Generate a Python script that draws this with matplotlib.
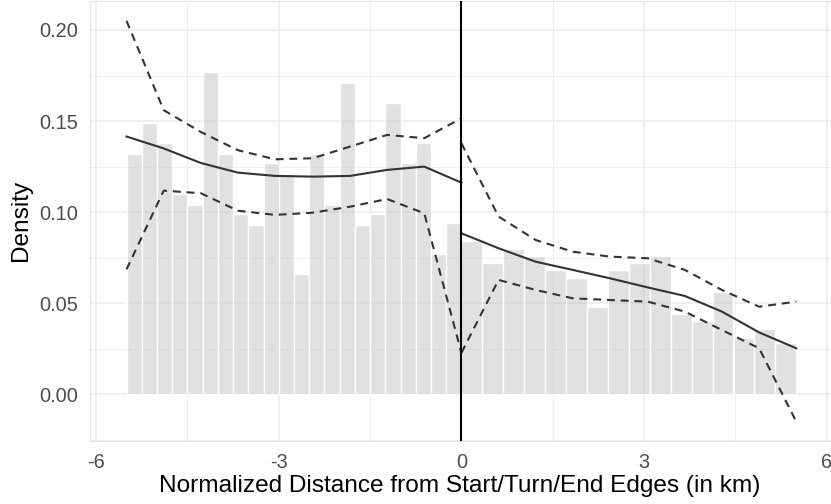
import numpy as np
import matplotlib.pyplot as plt

plt.rcParams['font.family'] = ['Liberation Sans', 'DejaVu Sans']
plt.rcParams['axes.unicode_minus'] = False

# ----------------------------------------------------------------------------------------------------------------------
# Data
# ----------------------------------------------------------------------------------------------------------------------
# histogram bins left of the edge (width 0.25) and right of it (width 5.5/16)
left_centers = [-5.375, -5.125, -4.875, -4.625, -4.375, -4.125, -3.875, -3.625, -3.375, -3.125, -2.875,
                -2.625, -2.375, -2.125, -1.875, -1.625, -1.375, -1.125, -0.875, -0.625, -0.375, -0.125]
left_density = [0.132, 0.149, 0.138, 0.110, 0.104, 0.177, 0.132, 0.099, 0.093, 0.127, 0.121,
                0.066, 0.132, 0.104, 0.171, 0.093, 0.099, 0.160, 0.127, 0.138, 0.077, 0.094]
right_centers = [0.172, 0.516, 0.859, 1.203, 1.547, 1.891, 2.234, 2.578,
                 2.922, 3.266, 3.609, 3.953, 4.297, 4.641, 4.984, 5.328]
right_density = [0.084, 0.072, 0.080, 0.076, 0.068, 0.064, 0.048, 0.068,
                 0.072, 0.076, 0.044, 0.040, 0.056, 0.031, 0.036, 0.028]
left_width = 0.25
right_width = 0.34375

# fitted density and its band
left_x = [-5.5, -4.89, -4.28, -3.67, -3.06, -2.44, -1.83, -1.22, -0.61, 0.0]
left_fit = [0.1415, 0.135, 0.127, 0.1217, 0.1199, 0.1195, 0.1199, 0.1232, 0.125, 0.1162]
left_upper = [0.205, 0.156, 0.144, 0.134, 0.129, 0.1296, 0.136, 0.1424, 0.1406, 0.1515]
left_lower = [0.0686, 0.1118, 0.1104, 0.1008, 0.0985, 0.0997, 0.103, 0.1072, 0.0994, 0.0228]
right_x = [0.0, 0.61, 1.22, 1.83, 2.44, 3.06, 3.67, 4.28, 4.89, 5.5]
right_fit = [0.0884, 0.0802, 0.0728, 0.0683, 0.0637, 0.0587, 0.054, 0.0454, 0.034, 0.0253]
right_upper = [0.1378, 0.0976, 0.0847, 0.0783, 0.0756, 0.0747, 0.0683, 0.0573, 0.0481, 0.0509]
right_lower = [0.0228, 0.0628, 0.0573, 0.0527, 0.0518, 0.0509, 0.0454, 0.0353, 0.0253, -0.015]

# ----------------------------------------------------------------------------------------------------------------------
# Plot
# ----------------------------------------------------------------------------------------------------------------------
fig = plt.figure(figsize=(8.31, 5.04), dpi=100)
ax = fig.add_axes([90 / 831, 1 - 441 / 504, 742.8 / 831, 440 / 504])

grid_c = '#EBEBEB'
for v in [-6, -3, 0, 3, 6]:
    ax.axvline(v, color=grid_c, lw=1.1, zorder=0)
for v in [-4.5, -1.5, 1.5, 4.5]:
    ax.axvline(v, color=grid_c, lw=0.6, zorder=0)
for v in [0, 0.05, 0.10, 0.15, 0.20]:
    ax.axhline(v, color=grid_c, lw=1.1, zorder=0)
for v in [-0.025, 0.025, 0.075, 0.125, 0.175]:
    ax.axhline(v, color=grid_c, lw=0.6, zorder=0)

bar_fc = (0.745, 0.745, 0.745, 0.45)
ax.bar(left_centers, left_density, width=left_width, facecolor=bar_fc, edgecolor='white', linewidth=1.0, zorder=1)
ax.bar(right_centers, right_density, width=right_width, facecolor=bar_fc, edgecolor='white', linewidth=1.0, zorder=1)

line_c = '#333333'
for xs, fit, up, lo in [(left_x, left_fit, left_upper, left_lower), (right_x, right_fit, right_upper, right_lower)]:
    ax.plot(xs, fit, c=line_c, lw=1.5, zorder=3)
    ax.plot(xs, up, c=line_c, lw=1.5, dashes=(3.8, 2.8), zorder=3)
    ax.plot(xs, lo, c=line_c, lw=1.5, dashes=(3.8, 2.8), zorder=3)

ax.axvline(0, color='black', lw=1.5, zorder=4)

ax.set_xlim(-6.1, 6.1)
ax.set_ylim(-0.0256, 0.2159)
ax.set_xticks([-6, -3, 0, 3, 6])
ax.set_xticklabels(['-6', '-3', '0', '3', '6'])
ax.set_yticks([0, 0.05, 0.10, 0.15, 0.20])
ax.set_yticklabels(['0.00', '0.05', '0.10', '0.15', '0.20'])
ax.tick_params(length=0, labelsize=14.4, labelcolor='#4D4D4D')
ax.tick_params(axis='y', pad=8.5)
ax.tick_params(axis='x', pad=15.5)
for lab in ax.get_xticklabels():
    lab.set_va('center')
for s in ax.spines.values():
    s.set_color('#E3E3E3')
    s.set_linewidth(0.8)

ax.set_xlabel('Normalized Distance from Start/Turn/End Edges (in km)', fontsize=17.6, va='center')
ax.set_ylabel('Density', fontsize=17.6, va='center', ha='center')
ax.xaxis.set_label_coords((460 - 90) / 742.8, (441 - 486) / 440)
ax.yaxis.set_label_coords((21 - 90) / 742.8, (441 - 220) / 440)

plt.savefig('out.png', dpi=100)
